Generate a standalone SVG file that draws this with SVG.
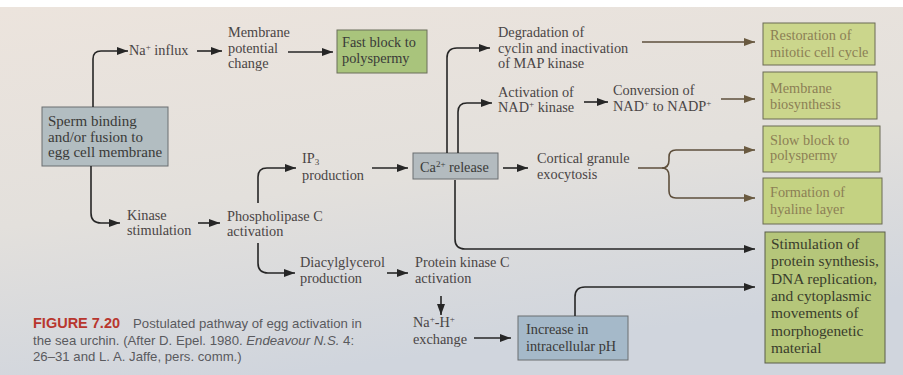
<svg xmlns="http://www.w3.org/2000/svg" width="903" height="375" viewBox="0 0 903 375">
<defs>
<linearGradient id="bg" x1="0" y1="0" x2="0.3" y2="1">
<stop offset="0" stop-color="#ece4dd"/>
<stop offset="0.55" stop-color="#e3e0dc"/>
<stop offset="1" stop-color="#d0d5dd"/>
</linearGradient>
<marker id="ah" markerUnits="userSpaceOnUse" markerWidth="11" markerHeight="8" refX="11" refY="4" orient="auto">
<path d="M0,0 L11,4 L0,8 z" fill="#262626"/>
</marker>
<marker id="ahb" markerUnits="userSpaceOnUse" markerWidth="11" markerHeight="8" refX="11" refY="4" orient="auto">
<path d="M0,0 L11,4 L0,8 z" fill="#6a5a40"/>
</marker>
<style>
text{font-family:"Liberation Serif","Times New Roman",serif;font-size:14.3px;fill:#4a4545}
.box text{fill:#3a3a38}
.yb text{fill:#8c7f55}
#sperm text{font-size:15px}
#stimulation text{font-size:15.4px;fill:#3a3d2c}
.c{stroke:#262626;stroke-width:1.6;fill:none;marker-end:url(#ah)}
.cb{stroke:#5e4f3c;stroke-width:1.6;fill:none;marker-end:url(#ahb)}
text.cap{font-family:"Liberation Sans",Arial,sans-serif;font-size:13.2px;fill:#5a5a5e}
</style>
</defs>
<rect x="0" y="0" width="903" height="375" fill="#ffffff"/>
<rect x="0" y="7" width="903" height="368" fill="url(#bg)"/>

<g id="sperm" class="box">
<rect x="42" y="107" width="126" height="59" fill="#b2bdc1" stroke="#6a6e70"/>
<text x="48" y="126">Sperm binding</text>
<text x="48" y="141.5">and/or fusion to</text>
<text x="48" y="157">egg cell membrane</text>
</g>
<g id="na-influx"><text x="129" y="55">Na<tspan font-size="9" dy="-5">+</tspan><tspan dy="5"> influx</tspan></text></g>
<g id="membrane-potential">
<text x="228" y="37">Membrane</text>
<text x="228" y="52.5">potential</text>
<text x="228" y="68">change</text>
</g>
<g id="fast-block" class="box">
<rect x="337" y="30" width="90" height="43" fill="#a9c47c" stroke="#6b6f5a"/>
<text x="342" y="47">Fast block to</text>
<text x="342" y="63">polyspermy</text>
</g>
<g id="kinase-stim">
<text x="127" y="220">Kinase</text>
<text x="127" y="235">stimulation</text>
</g>
<g id="plc">
<text x="227" y="220.5">Phospholipase C</text>
<text x="227" y="236">activation</text>
</g>
<g id="ip3">
<text x="302" y="163">IP<tspan font-size="9" dy="2">3</tspan></text>
<text x="302" y="179.5">production</text>
</g>
<g id="ca-release" class="box">
<rect x="413" y="153" width="85" height="26" fill="#b3bbbf" stroke="#6a6e70"/>
<text x="420" y="172">Ca<tspan font-size="9" dy="-5">2+</tspan><tspan dy="5"> release</tspan></text>
</g>
<g id="dag">
<text x="300" y="267">Diacylglycerol</text>
<text x="300" y="283">production</text>
</g>
<g id="pkc">
<text x="415" y="267">Protein kinase C</text>
<text x="415" y="283">activation</text>
</g>
<g id="na-h">
<text x="413" y="327">Na<tspan font-size="9" dy="-5">+</tspan><tspan dy="5">-H</tspan><tspan font-size="9" dy="-5">+</tspan></text>
<text x="413" y="344">exchange</text>
</g>
<g id="ph" class="box">
<rect x="518" y="316" width="110" height="44" fill="#a5b9c9" stroke="#6a6e70"/>
<text x="526" y="333.5">Increase in</text>
<text x="526" y="351">intracellular pH</text>
</g>
<g id="degradation">
<text x="498" y="37">Degradation of</text>
<text x="498" y="52.5">cyclin and inactivation</text>
<text x="498" y="68">of MAP kinase</text>
</g>
<g id="nad-kinase">
<text x="498" y="97">Activation of</text>
<text x="498" y="112">NAD<tspan font-size="9" dy="-5">+</tspan><tspan dy="5"> kinase</tspan></text>
</g>
<g id="nadp">
<text x="613" y="95">Conversion of</text>
<text x="613" y="111">NAD<tspan font-size="9" dy="-5">+</tspan><tspan dy="5"> to NADP</tspan><tspan font-size="9" dy="-5">+</tspan></text>
</g>
<g id="cortical">
<text x="537" y="163">Cortical granule</text>
<text x="537" y="179">exocytosis</text>
</g>
<g id="restoration" class="yb">
<rect x="763" y="23" width="112" height="42" fill="#cbd68c" stroke="#6b6b55"/>
<text x="770" y="40">Restoration of</text>
<text x="770" y="56.5">mitotic cell cycle</text>
</g>
<g id="membrane-bio" class="yb">
<rect x="763" y="72" width="114" height="47" fill="#cbd68c" stroke="#6b6b55"/>
<text x="770" y="93">Membrane</text>
<text x="770" y="109">biosynthesis</text>
</g>
<g id="slow-block" class="yb">
<rect x="763" y="126" width="117" height="46" fill="#c9d68a" stroke="#6b6b55"/>
<text x="770" y="145">Slow block to</text>
<text x="770" y="160">polyspermy</text>
</g>
<g id="hyaline" class="yb">
<rect x="763" y="178" width="119" height="46" fill="#c4d282" stroke="#6b6b55"/>
<text x="770" y="197">Formation of</text>
<text x="770" y="214">hyaline layer</text>
</g>
<g id="stimulation" class="box">
<rect x="765" y="232" width="120" height="131" fill="#b5c67a" stroke="#5a5e4a"/>
<text x="771" y="249">Stimulation of</text>
<text x="771" y="266.3">protein synthesis,</text>
<text x="771" y="283.6">DNA replication,</text>
<text x="771" y="300.9">and cytoplasmic</text>
<text x="771" y="318.2">movements of</text>
<text x="771" y="335.5">morphogenetic</text>
<text x="771" y="352.8">material</text>
</g>

<g id="connectors">
<path class="c" d="M93,107 V59 Q93,51 101,51 H128"/>
<path class="c" d="M197,51 H222"/>
<path class="c" d="M288,52 H333"/>
<path class="c" d="M91,166 V213 Q91,223 101,223 H120"/>
<path class="c" d="M198,223 H220"/>
<path class="c" d="M258,203 V177 Q258,168 267,168 H296"/>
<path class="c" d="M372,168 H408"/>
<path class="c" d="M258,243 V263 Q258,273 268,273 H295"/>
<path class="c" d="M387,273 H408"/>
<path class="c" d="M441,296 V315"/>
<path class="c" d="M474,338 H511"/>
<path class="c" d="M575,316 V297 Q575,287 585,287 H755"/>
<path class="c" d="M447,153 V58 Q447,48 457,48 H490"/>
<path class="c" d="M458,153 V112 Q458,103 467,103 H492"/>
<path class="c" d="M584,102 H608"/>
<path class="cb" d="M721,99 H755"/>
<path class="cb" d="M642,42 H755"/>
<path class="c" d="M503,168 H528"/>
<path class="cb" d="M638,168 H662 Q669,168 669,160 V157 Q669,150 676,150 H755"/>
<path class="cb" d="M662,168 Q669,168 669,176 V191 Q669,198 676,198 H755"/>
<path class="c" d="M455,180 V239 Q455,249 465,249 H755"/>
</g>

<g id="caption">
<text class="cap" x="33" y="327.5"><tspan font-weight="bold" fill="#b8362e" font-size="14.5px">FIGURE 7.20</tspan><tspan x="133">Postulated pathway of egg activation in</tspan></text>
<text class="cap" x="33" y="344.5">the sea urchin. (After D. Epel. 1980. <tspan font-style="italic">Endeavour N.S.</tspan> 4:</text>
<text class="cap" x="33" y="360.5">26–31 and L. A. Jaffe, pers. comm.)</text>
</g>
</svg>
